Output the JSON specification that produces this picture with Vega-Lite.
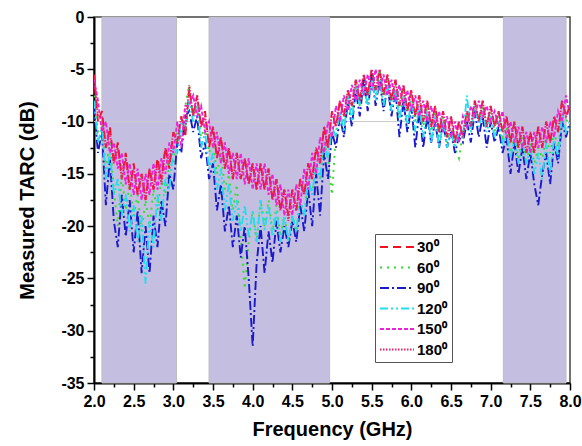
{
"$schema":"https://vega.github.io/schema/vega-lite/v6.json",
"width":476,"height":366,
"autosize":{"type":"none"},
"padding":{"left":94,"top":17,"right":12,"bottom":63},
"background":"white",
"config":{"view":{"stroke":"#444444","strokeWidth":1.5},"font":"Liberation Sans"},
"datasets":{
"bands":[{"x1":2.1,"x2":3.04},{"x1":3.45,"x2":4.97},{"x1":7.16,"x2":7.95}],
"ref":[{"y":-10}],
"t":[
{"f":2.00,"s30":-5.5,"s60":-7.5,"s90":-8.5,"s120":-8,"s150":-6,"s180":-5.6},
{"f":2.05,"s30":-10,"s60":-11,"s90":-13,"s120":-12,"s150":-8,"s180":-9.5},
{"f":2.10,"s30":-9,"s60":-10.5,"s90":-11,"s120":-10.5,"s150":-11,"s180":-9.5},
{"f":2.15,"s30":-12.5,"s60":-14.5,"s90":-18,"s120":-15.5,"s150":-10,"s180":-12.5},
{"f":2.20,"s30":-10.5,"s60":-12,"s90":-13.5,"s120":-13,"s150":-13,"s180":-11},
{"f":2.25,"s30":-14,"s60":-16.5,"s90":-19.5,"s120":-17,"s150":-12,"s180":-14},
{"f":2.30,"s30":-12,"s60":-20,"s90":-22,"s120":-15.5,"s150":-14.5,"s180":-12.5},
{"f":2.35,"s30":-15.5,"s60":-15,"s90":-17,"s120":-19,"s150":-13,"s180":-15.5},
{"f":2.40,"s30":-13,"s60":-18.5,"s90":-21,"s120":-17,"s150":-16,"s180":-13.5},
{"f":2.45,"s30":-16.5,"s60":-16,"s90":-17.5,"s120":-20.5,"s150":-14,"s180":-16.5},
{"f":2.50,"s30":-14,"s60":-19,"s90":-22.5,"s120":-18,"s150":-17,"s180":-14.5},
{"f":2.55,"s30":-17,"s60":-17,"s90":-18.5,"s120":-21.5,"s150":-14.5,"s180":-17},
{"f":2.60,"s30":-15,"s60":-20.5,"s90":-24.5,"s120":-19,"s150":-17.5,"s180":-15},
{"f":2.65,"s30":-17.5,"s60":-17.5,"s90":-20,"s120":-25.5,"s150":-15,"s180":-17.5},
{"f":2.70,"s30":-14.5,"s60":-20,"s90":-24.5,"s120":-19.5,"s150":-17,"s180":-14.5},
{"f":2.75,"s30":-16.5,"s60":-16.5,"s90":-19,"s120":-22,"s150":-14,"s180":-16.5},
{"f":2.80,"s30":-13.5,"s60":-18.5,"s90":-22,"s120":-17,"s150":-16.5,"s180":-14},
{"f":2.85,"s30":-15.5,"s60":-15.5,"s90":-17.5,"s120":-19.5,"s150":-13.5,"s180":-16},
{"f":2.90,"s30":-12.5,"s60":-17,"s90":-20,"s120":-15.5,"s150":-15,"s180":-12.5},
{"f":2.95,"s30":-14.5,"s60":-14,"s90":-15,"s120":-16.5,"s150":-12,"s180":-14},
{"f":3.00,"s30":-11,"s60":-14,"s90":-16.5,"s120":-12.5,"s150":-13,"s180":-11},
{"f":3.05,"s30":-12,"s60":-11,"s90":-12,"s120":-13,"s150":-10,"s180":-12},
{"f":3.10,"s30":-9.5,"s60":-11.5,"s90":-13,"s120":-10,"s150":-12.5,"s180":-9.5},
{"f":3.15,"s30":-11.5,"s60":-8.5,"s90":-9.5,"s120":-10.5,"s150":-8.5,"s180":-11},
{"f":3.20,"s30":-6.8,"s60":-6.5,"s90":-9,"s120":-8,"s150":-8.5,"s180":-6.5},
{"f":3.25,"s30":-9.5,"s60":-9.5,"s90":-11,"s120":-10,"s150":-7.5,"s180":-9.5},
{"f":3.30,"s30":-7.5,"s60":-8.5,"s90":-9.5,"s120":-8.5,"s150":-9.5,"s180":-7.5},
{"f":3.35,"s30":-10.5,"s60":-11.5,"s90":-13.5,"s120":-12.5,"s150":-8.5,"s180":-10.5},
{"f":3.40,"s30":-9,"s60":-10.5,"s90":-12,"s120":-11,"s150":-11,"s180":-9.5},
{"f":3.45,"s30":-12.5,"s60":-13,"s90":-15.5,"s120":-14.5,"s150":-10,"s180":-12},
{"f":3.50,"s30":-10.5,"s60":-12,"s90":-14,"s120":-13,"s150":-12.5,"s180":-10.5},
{"f":3.55,"s30":-13.5,"s60":-15,"s90":-18.5,"s120":-16.5,"s150":-11,"s180":-13.5},
{"f":3.60,"s30":-11.5,"s60":-13,"s90":-16,"s120":-14.5,"s150":-14,"s180":-11.5},
{"f":3.65,"s30":-14.5,"s60":-16.5,"s90":-20.5,"s120":-18.5,"s150":-12,"s180":-14.5},
{"f":3.70,"s30":-12.5,"s60":-15,"s90":-18,"s120":-16,"s150":-15,"s180":-12.5},
{"f":3.75,"s30":-15.5,"s60":-18.5,"s90":-22,"s120":-19.5,"s150":-13,"s180":-15.5},
{"f":3.80,"s30":-13,"s60":-16,"s90":-19,"s120":-17.5,"s150":-15.5,"s180":-13},
{"f":3.85,"s30":-15.5,"s60":-21,"s90":-23,"s120":-20.5,"s150":-13,"s180":-15.5},
{"f":3.90,"s30":-13.5,"s60":-26,"s90":-20,"s120":-18,"s150":-16,"s180":-13.5},
{"f":3.95,"s30":-16,"s60":-21.5,"s90":-25,"s120":-21,"s150":-13.5,"s180":-16},
{"f":4.00,"s30":-14,"s60":-18.5,"s90":-31.5,"s120":-18.5,"s150":-16.5,"s180":-14},
{"f":4.05,"s30":-16.5,"s60":-21.5,"s90":-23.5,"s120":-21.5,"s150":-14,"s180":-16.5},
{"f":4.10,"s30":-14,"s60":-17.5,"s90":-20,"s120":-17.5,"s150":-16.5,"s180":-14},
{"f":4.15,"s30":-16.5,"s60":-20,"s90":-24.5,"s120":-20.5,"s150":-14,"s180":-16.5},
{"f":4.20,"s30":-14.5,"s60":-17.5,"s90":-20.5,"s120":-18,"s150":-17,"s180":-14.5},
{"f":4.25,"s30":-17.5,"s60":-20.5,"s90":-23.5,"s120":-21,"s150":-15,"s180":-17.5},
{"f":4.30,"s30":-15.5,"s60":-18,"s90":-19.5,"s120":-18.5,"s150":-18,"s180":-15.5},
{"f":4.35,"s30":-18.5,"s60":-21,"s90":-22.5,"s120":-21.5,"s150":-16,"s180":-18.5},
{"f":4.40,"s30":-16.5,"s60":-19,"s90":-20,"s120":-19,"s150":-19,"s180":-16.5},
{"f":4.45,"s30":-19,"s60":-21.5,"s90":-22,"s120":-21.5,"s150":-16.5,"s180":-19.5},
{"f":4.50,"s30":-16.5,"s60":-19,"s90":-19.5,"s120":-19,"s150":-19,"s180":-16.5},
{"f":4.55,"s30":-18.5,"s60":-20.5,"s90":-21.5,"s120":-20.5,"s150":-16,"s180":-18.5},
{"f":4.60,"s30":-15.5,"s60":-17.5,"s90":-18,"s120":-17.5,"s150":-18,"s180":-15.5},
{"f":4.65,"s30":-17,"s60":-19,"s90":-20.5,"s120":-19,"s150":-14.5,"s180":-17},
{"f":4.70,"s30":-14,"s60":-15.5,"s90":-16.5,"s120":-15.5,"s150":-16.5,"s180":-14},
{"f":4.75,"s30":-15.5,"s60":-17,"s90":-20,"s120":-17,"s150":-13,"s180":-15.5},
{"f":4.80,"s30":-12.5,"s60":-14,"s90":-15,"s120":-14,"s150":-15,"s180":-12.5},
{"f":4.85,"s30":-14,"s60":-15.5,"s90":-19,"s120":-15.5,"s150":-11.5,"s180":-14},
{"f":4.90,"s30":-10.5,"s60":-12,"s90":-13,"s120":-12,"s150":-13,"s180":-10.5},
{"f":4.95,"s30":-12.5,"s60":-13.5,"s90":-15.5,"s120":-13.5,"s150":-10,"s180":-12.5},
{"f":5.00,"s30":-9,"s60":-17,"s90":-11,"s120":-10.5,"s150":-11.5,"s180":-9},
{"f":5.05,"s30":-10.5,"s60":-11,"s90":-12.5,"s120":-11.5,"s150":-8.5,"s180":-10.5},
{"f":5.10,"s30":-8,"s60":-9,"s90":-9.5,"s120":-9,"s150":-10,"s180":-8},
{"f":5.15,"s30":-9.5,"s60":-10,"s90":-11.5,"s120":-11,"s150":-7.5,"s180":-9.5},
{"f":5.20,"s30":-7,"s60":-7.5,"s90":-8,"s120":-7.5,"s150":-9,"s180":-7},
{"f":5.25,"s30":-8.5,"s60":-9,"s90":-10.5,"s120":-10,"s150":-6.5,"s180":-8.5},
{"f":5.30,"s30":-6,"s60":-6.5,"s90":-7,"s120":-6.5,"s150":-8,"s180":-6},
{"f":5.35,"s30":-8,"s60":-8.5,"s90":-9.5,"s120":-8.5,"s150":-6,"s180":-8},
{"f":5.40,"s30":-5.5,"s60":-6,"s90":-6,"s120":-6.5,"s150":-7.5,"s180":-5.5},
{"f":5.45,"s30":-7.5,"s60":-8,"s90":-9,"s120":-8.5,"s150":-5.5,"s180":-7.5},
{"f":5.50,"s30":-5,"s60":-5.5,"s90":-5.5,"s120":-6,"s150":-7,"s180":-5},
{"f":5.55,"s30":-7,"s60":-7.5,"s90":-8.5,"s120":-8,"s150":-5,"s180":-7},
{"f":5.60,"s30":-5,"s60":-5,"s90":-6,"s120":-6,"s150":-7,"s180":-5},
{"f":5.65,"s30":-7.5,"s60":-8,"s90":-9,"s120":-8.5,"s150":-5.5,"s180":-7.5},
{"f":5.70,"s30":-5.5,"s60":-6,"s90":-6.5,"s120":-6.5,"s150":-7.5,"s180":-5.5},
{"f":5.75,"s30":-8,"s60":-8.5,"s90":-9.5,"s120":-9,"s150":-6,"s180":-8},
{"f":5.80,"s30":-6,"s60":-6.5,"s90":-7,"s120":-7,"s150":-8,"s180":-6},
{"f":5.85,"s30":-8.5,"s60":-9.5,"s90":-11.5,"s120":-10,"s150":-6.5,"s180":-8.5},
{"f":5.90,"s30":-6.5,"s60":-7,"s90":-8,"s120":-7.5,"s150":-8.5,"s180":-6.5},
{"f":5.95,"s30":-9,"s60":-9.5,"s90":-11,"s120":-10.5,"s150":-7,"s180":-9},
{"f":6.00,"s30":-7,"s60":-7.5,"s90":-8.5,"s120":-8,"s150":-9,"s180":-7},
{"f":6.05,"s30":-9.5,"s60":-10,"s90":-12.5,"s120":-11,"s150":-7.5,"s180":-9.5},
{"f":6.10,"s30":-7.5,"s60":-8,"s90":-9,"s120":-8.5,"s150":-9.5,"s180":-7.5},
{"f":6.15,"s30":-10,"s60":-10.5,"s90":-12.5,"s120":-11.5,"s150":-8,"s180":-10},
{"f":6.20,"s30":-8,"s60":-8.5,"s90":-9.5,"s120":-9,"s150":-10,"s180":-8},
{"f":6.25,"s30":-10.5,"s60":-11,"s90":-12,"s120":-12,"s150":-8.5,"s180":-10.5},
{"f":6.30,"s30":-8.5,"s60":-9,"s90":-10,"s120":-9.5,"s150":-10.5,"s180":-8.5},
{"f":6.35,"s30":-11,"s60":-11.5,"s90":-12.5,"s120":-12.5,"s150":-9,"s180":-11},
{"f":6.40,"s30":-9,"s60":-9.5,"s90":-10,"s120":-10,"s150":-11,"s180":-9},
{"f":6.45,"s30":-11.5,"s60":-12,"s90":-12.5,"s120":-12.5,"s150":-9.5,"s180":-11.5},
{"f":6.50,"s30":-9.5,"s60":-10.5,"s90":-11,"s120":-11,"s150":-11.5,"s180":-9.5},
{"f":6.55,"s30":-12,"s60":-12.5,"s90":-13,"s120":-12.5,"s150":-10,"s180":-12},
{"f":6.60,"s30":-10,"s60":-13.5,"s90":-11.5,"s120":-11,"s150":-12,"s180":-10},
{"f":6.65,"s30":-11.5,"s60":-11,"s90":-12,"s120":-11.5,"s150":-9.5,"s180":-11.5},
{"f":6.70,"s30":-9,"s60":-9.5,"s90":-10,"s120":-7.5,"s150":-10.5,"s180":-9},
{"f":6.75,"s30":-10.5,"s60":-10.5,"s90":-12,"s120":-11,"s150":-8.5,"s180":-10.5},
{"f":6.80,"s30":-8,"s60":-8.5,"s90":-9,"s120":-8.5,"s150":-9.5,"s180":-8},
{"f":6.85,"s30":-10,"s60":-10,"s90":-11.5,"s120":-10.5,"s150":-8,"s180":-10},
{"f":6.90,"s30":-8,"s60":-8.5,"s90":-9.5,"s120":-9,"s150":-9.5,"s180":-8},
{"f":6.95,"s30":-10.5,"s60":-10.5,"s90":-12.5,"s120":-11,"s150":-8.5,"s180":-10.5},
{"f":7.00,"s30":-8.5,"s60":-9,"s90":-10,"s120":-9.5,"s150":-10,"s180":-8.5},
{"f":7.05,"s30":-10.5,"s60":-11,"s90":-12,"s120":-11.5,"s150":-9,"s180":-10.5},
{"f":7.10,"s30":-9,"s60":-9.5,"s90":-10.5,"s120":-10,"s150":-10.5,"s180":-9},
{"f":7.15,"s30":-11,"s60":-11.5,"s90":-13,"s120":-12,"s150":-9,"s180":-11},
{"f":7.20,"s30":-9.5,"s60":-10.5,"s90":-11.5,"s120":-11,"s150":-11.5,"s180":-9.5},
{"f":7.25,"s30":-12,"s60":-13,"s90":-15,"s120":-13.5,"s150":-10,"s180":-12},
{"f":7.30,"s30":-10,"s60":-11.5,"s90":-12,"s120":-11.5,"s150":-12,"s180":-10},
{"f":7.35,"s30":-12.5,"s60":-13.5,"s90":-15,"s120":-14,"s150":-10.5,"s180":-12.5},
{"f":7.40,"s30":-10.5,"s60":-11.5,"s90":-12.5,"s120":-12,"s150":-12.5,"s180":-10.5},
{"f":7.45,"s30":-13,"s60":-14,"s90":-15.5,"s120":-14,"s150":-11,"s180":-13},
{"f":7.50,"s30":-11,"s60":-12,"s90":-13,"s120":-12.5,"s150":-13,"s180":-11},
{"f":7.55,"s30":-13,"s60":-14,"s90":-16,"s120":-15,"s150":-11,"s180":-13},
{"f":7.60,"s30":-10.5,"s60":-12.5,"s90":-18,"s120":-13,"s150":-12.5,"s180":-10.5},
{"f":7.65,"s30":-12.5,"s60":-13.5,"s90":-15,"s120":-15.5,"s150":-10.5,"s180":-12.5},
{"f":7.70,"s30":-10,"s60":-11.5,"s90":-13,"s120":-12,"s150":-12,"s180":-10},
{"f":7.75,"s30":-12,"s60":-13,"s90":-16,"s120":-15,"s150":-10,"s180":-12},
{"f":7.80,"s30":-9.5,"s60":-11,"s90":-12,"s120":-11.5,"s150":-11.5,"s180":-9.5},
{"f":7.85,"s30":-11,"s60":-12.5,"s90":-14,"s120":-13.5,"s150":-9,"s180":-11},
{"f":7.90,"s30":-8,"s60":-9.5,"s90":-10,"s120":-9.5,"s150":-10,"s180":-8},
{"f":7.95,"s30":-9.5,"s60":-10,"s90":-11.5,"s120":-11,"s150":-7.5,"s180":-9.5},
{"f":8.00,"s30":-8.5,"s60":-9.5,"s90":-10,"s120":-10,"s150":-9.5,"s180":-8.5}
]},
"resolve":{"axis":{"x":"independent","y":"independent"}},
"layer":[
{"data":{"name":"bands"},
 "mark":{"type":"rect","fill":"#C4BFE0","stroke":"#BDBDBD","strokeWidth":1},
 "encoding":{"x":{"field":"x1","type":"quantitative","scale":{"domain":[2,8],"nice":false,"zero":false},"axis":null},"x2":{"field":"x2"}}},
{"data":{"name":"ref"},
 "mark":{"type":"rule","color":"#C8C8C8","strokeWidth":1},
 "encoding":{"y":{"field":"y","type":"quantitative","scale":{"domain":[-35,0],"nice":false},"axis":null}}},
{"data":{"name":"t"},
 "mark":{"type":"point","opacity":0},
 "encoding":{
  "x":{"field":"f","type":"quantitative","axis":{"orient":"bottom","values":[2.25,2.75,3.25,3.75,4.25,4.75,5.25,5.75,6.25,6.75,7.25,7.75],"labels":false,"domain":false,"grid":false,"ticks":true,"tickSize":4,"tickWidth":1.5,"tickColor":"black","title":null}},
  "y":{"field":"s30","type":"quantitative","axis":{"orient":"left","values":[-32.5,-27.5,-22.5,-17.5,-12.5,-7.5,-2.5],"labels":false,"domain":false,"grid":false,"ticks":true,"tickSize":4,"tickWidth":1.5,"tickColor":"black","title":null}}}},
{"data":{"name":"t"},
 "transform":[{"fold":["s30","s60","s90","s120","s150","s180"],"as":["series","v"]}],
 "mark":{"type":"line","strokeWidth":1.9,"clip":true},
 "encoding":{
  "x":{"field":"f","type":"quantitative","axis":{"orient":"bottom","values":[2,2.5,3,3.5,4,4.5,5,5.5,6,6.5,7,7.5,8],"labelExpr":"format(datum.value,'.1f')","title":"Frequency (GHz)","grid":false,"tickSize":7,"tickWidth":1.5,"tickColor":"black","domainColor":"black","domainWidth":2,"labelFont":"Liberation Sans","labelFontWeight":"bold","labelFontSize":16,"labelColor":"black","labelPadding":3,"labelFlush":false,"titleFont":"Liberation Sans","titleFontSize":20,"titleFontWeight":"bold","titleColor":"black","titlePadding":10}},
  "y":{"field":"v","type":"quantitative","axis":{"orient":"left","values":[-35,-30,-25,-20,-15,-10,-5,0],"labelExpr":"'' + datum.value","title":"Measured TARC (dB)","grid":false,"tickSize":7,"tickWidth":1.5,"tickColor":"black","domainColor":"black","domainWidth":2,"labelFont":"Liberation Sans","labelFontWeight":"bold","labelFontSize":16,"labelColor":"black","labelPadding":3,"labelFlush":false,"titleFont":"Liberation Sans","titleFontSize":20,"titleFontWeight":"bold","titleColor":"black","titlePadding":23}},
  "color":{"field":"series","type":"nominal","sort":["s30","s60","s90","s120","s150","s180"],
   "scale":{"domain":["s30","s60","s90","s120","s150","s180"],"range":["#F01020","#33DD33","#1A1ACC","#22DDEE","#EE22DD","#E8206A"]},
   "legend":{"orient":"none","legendX":281,"legendY":217,"title":null,"symbolType":"M-1,0H3.25","symbolSize":256,"symbolStrokeWidth":2,"labelExpr":"replace(datum.label,'s','') + '⁰'","labelFont":"Liberation Sans","labelFontWeight":"bold","labelFontSize":15,"labelColor":"black","rowPadding":3.5,"padding":4,"strokeColor":"#555555","fillColor":"white","cornerRadius":0,"labelOffset":20}},
  "strokeDash":{"field":"series","type":"nominal","sort":["s30","s60","s90","s120","s150","s180"],
   "scale":{"domain":["s30","s60","s90","s120","s150","s180"],"range":[[8,5],[2,5],[9,3,2,3],[8,3,2,3,2,3],[4,2],[1.5,1.5]]},
   "legend":{"orient":"none","legendX":281,"legendY":217,"title":null,"symbolType":"M-1,0H3.25","symbolSize":256,"symbolStrokeWidth":2,"labelExpr":"replace(datum.label,'s','') + '⁰'","labelFont":"Liberation Sans","labelFontWeight":"bold","labelFontSize":15,"labelColor":"black","rowPadding":3.5,"padding":4,"strokeColor":"#555555","fillColor":"white","cornerRadius":0,"labelOffset":20}}
 }}
]
}
